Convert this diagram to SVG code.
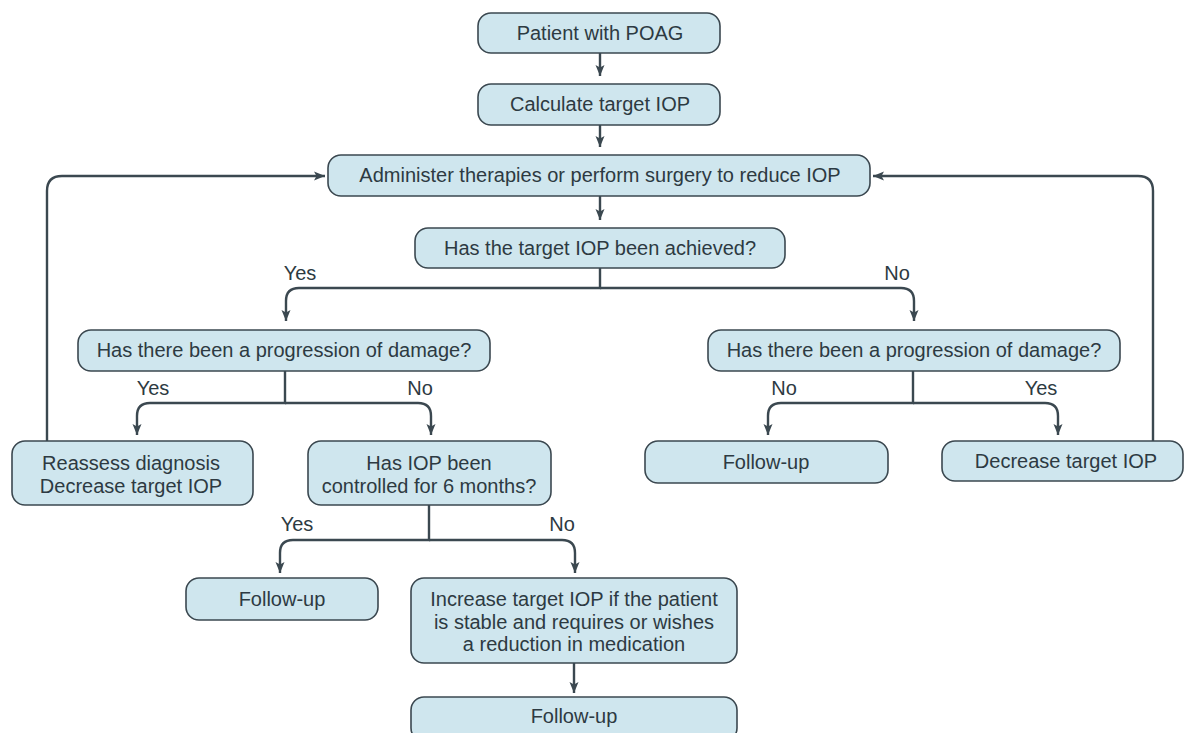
<svg xmlns="http://www.w3.org/2000/svg" width="1185" height="733" viewBox="0 0 1185 733">
<defs>
<style>
.box{fill:#cfe6ee;stroke:#3b4850;stroke-width:1.6}
.t{font-family:"Liberation Sans",Arial,sans-serif;font-size:20px;fill:#2d3a42;text-anchor:middle}
.c{fill:none;stroke:#3b4850;stroke-width:2.4}
</style>
<marker id="ah" markerUnits="userSpaceOnUse" markerWidth="12" markerHeight="12" refX="11" refY="6" orient="auto">
<path d="M0,1.5 L11,6 L0,10.5 L2.5,6 z" fill="#3b4850"/>
</marker>
</defs>
<rect width="1185" height="733" fill="#ffffff"/>
<g id="connectors">
<path class="c" d="M600,53 V76" marker-end="url(#ah)"/>
<path class="c" d="M600,125 V147" marker-end="url(#ah)"/>
<path class="c" d="M600,196 V220" marker-end="url(#ah)"/>
<path class="c" d="M600,268 V288 H299 Q286,288 286,301 V321" marker-end="url(#ah)"/>
<path class="c" d="M600,288 H901 Q914,288 914,301 V321" marker-end="url(#ah)"/>
<path class="c" d="M285,371 V403 H150 Q137,403 137,416 V435" marker-end="url(#ah)"/>
<path class="c" d="M285,403 H418 Q431,403 431,416 V435" marker-end="url(#ah)"/>
<path class="c" d="M913,371 V403 H781 Q768,403 768,416 V435" marker-end="url(#ah)"/>
<path class="c" d="M913,403 H1045 Q1058,403 1058,416 V435" marker-end="url(#ah)"/>
<path class="c" d="M47,441 V191 Q47,176 62,176 H325" marker-end="url(#ah)"/>
<path class="c" d="M1153,441 V191 Q1153,176 1138,176 H873" marker-end="url(#ah)"/>
<path class="c" d="M429,505 V540 H293 Q280,540 280,553 V573" marker-end="url(#ah)"/>
<path class="c" d="M429,540 H562 Q575,540 575,553 V573" marker-end="url(#ah)"/>
<path class="c" d="M574,663 V693" marker-end="url(#ah)"/>
</g>
<g id="labels">
<text class="t" x="300" y="280">Yes</text>
<text class="t" x="897" y="280">No</text>
<text class="t" x="153" y="395">Yes</text>
<text class="t" x="420" y="395">No</text>
<text class="t" x="784" y="395">No</text>
<text class="t" x="1041" y="395">Yes</text>
<text class="t" x="297" y="531">Yes</text>
<text class="t" x="562" y="531">No</text>
</g>
<g id="n1"><rect class="box" x="478" y="13" width="242" height="40" rx="13"/><text class="t" x="600" y="40">Patient with POAG</text></g>
<g id="n2"><rect class="box" x="478" y="84" width="242" height="41" rx="13"/><text class="t" x="600" y="111">Calculate target IOP</text></g>
<g id="n3"><rect class="box" x="328" y="155" width="542" height="41" rx="13"/><text class="t" x="600" y="182">Administer therapies or perform surgery to reduce IOP</text></g>
<g id="n4"><rect class="box" x="415" y="228" width="370" height="40" rx="13"/><text class="t" x="600" y="255">Has the target IOP been achieved?</text></g>
<g id="n5"><rect class="box" x="78" y="330" width="412" height="41" rx="13"/><text class="t" x="284" y="357">Has there been a progression of damage?</text></g>
<g id="n6"><rect class="box" x="708" y="330" width="412" height="41" rx="13"/><text class="t" x="914" y="357">Has there been a progression of damage?</text></g>
<g id="n7"><rect class="box" x="12" y="441" width="241" height="64" rx="13"/><text class="t" x="131" y="470">Reassess diagnosis<tspan x="131" dy="22.5">Decrease target IOP</tspan></text></g>
<g id="n8"><rect class="box" x="308" y="441" width="243" height="64" rx="13"/><text class="t" x="429" y="470">Has IOP been<tspan x="429" dy="22.5">controlled for 6 months?</tspan></text></g>
<g id="n9"><rect class="box" x="645" y="441" width="243" height="42" rx="13"/><text class="t" x="766" y="469">Follow-up</text></g>
<g id="n10"><rect class="box" x="942" y="441" width="241" height="40" rx="13"/><text class="t" x="1066" y="468">Decrease target IOP</text></g>
<g id="n11"><rect class="box" x="186" y="578" width="192" height="42" rx="13"/><text class="t" x="282" y="606">Follow-up</text></g>
<g id="n12"><rect class="box" x="411" y="578" width="326" height="85" rx="13"/><text class="t" x="574" y="606">Increase target IOP if the patient<tspan x="574" dy="22.5">is stable and requires or wishes</tspan><tspan x="574" dy="22.5">a reduction in medication</tspan></text></g>
<g id="n13"><rect class="box" x="411" y="697" width="326" height="44" rx="13"/><text class="t" x="574" y="723">Follow-up</text></g>
</svg>
